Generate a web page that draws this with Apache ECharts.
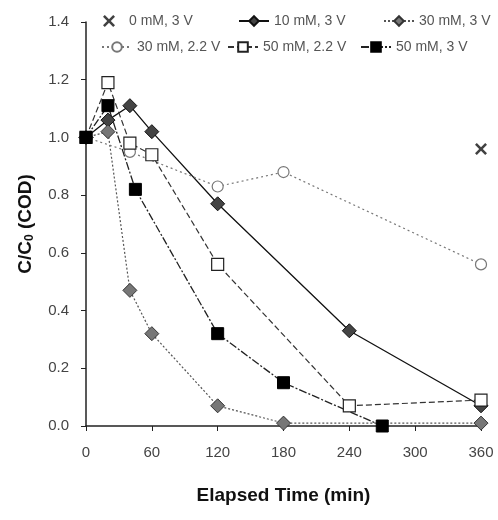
<!DOCTYPE html>
<html>
<head>
<meta charset="utf-8">
<script src="https://cdn.jsdelivr.net/npm/echarts@6/dist/echarts.min.js"></script>
<style>
  html, body { margin: 0; padding: 0; background: #fff; }
  #chart { width: 498px; height: 520px; }
</style>
</head>
<body>
<div id="chart"></div>
<script>
// Elapsed time (min) and normalised COD (C/C0) for each run
const seriesNames = ['0 mM, 3 V', '10 mM, 3 V', '30 mM, 3 V', '30 mM, 2.2 V', '50 mM, 2.2 V', '50 mM, 3 V'];

const t_0mM_3V = [360];
const c_0mM_3V = [0.96];

const t_10mM_3V = [0, 20, 40, 60, 120, 240, 360];
const c_10mM_3V = [1.0, 1.06, 1.11, 1.02, 0.77, 0.33, 0.07];

const t_30mM_3V = [0, 20, 40, 60, 120, 180, 360];
const c_30mM_3V = [1.0, 1.02, 0.47, 0.32, 0.07, 0.01, 0.01];

const t_30mM_22V = [0, 40, 120, 180, 360];
const c_30mM_22V = [1.0, 0.95, 0.83, 0.88, 0.56];

const t_50mM_22V = [0, 20, 40, 60, 120, 240, 360];
const c_50mM_22V = [1.0, 1.19, 0.98, 0.94, 0.56, 0.07, 0.09];

const t_50mM_3V = [0, 20, 45, 120, 180, 270];
const c_50mM_3V = [1.0, 1.11, 0.82, 0.32, 0.15, 0.0];

const xTicks = [0, 60, 120, 180, 240, 300, 360];
const yTicks = [0.0, 0.2, 0.4, 0.6, 0.8, 1.0, 1.2, 1.4];

const pairs = (xs, ys) => xs.map((x, i) => [x, ys[i]]);

// bold "x" marker
const crossPath = 'path://M0,3 L3,0 L10,7 L17,0 L20,3 L13,10 L20,17 L17,20 L10,13 L3,20 L0,17 L7,10 Z';

const tickFont = { fontFamily: 'Liberation Sans Narrow, Liberation Sans, sans-serif', fontSize: 15, color: '#444' };
const legendText = { fontFamily: 'Liberation Sans Narrow, Liberation Sans, sans-serif', fontSize: 14, color: '#555' };

function legendAt(name, left, top) {
  return {
    data: [name], left: left, top: top, orient: 'horizontal',
    itemWidth: 30, itemHeight: 12, itemGap: 4,
    textStyle: legendText, selectedMode: false
  };
}

const chart = echarts.init(document.getElementById('chart'), null, { renderer: 'canvas' });

chart.setOption({
  animation: false,
  backgroundColor: '#fff',
  grid: { left: 86, right: 17, top: 22, bottom: 94 },
  legend: [
    legendAt(seriesNames[0], 98, 9),
    legendAt(seriesNames[1], 233, 9),
    legendAt(seriesNames[2], 378, 9),
    legendAt(seriesNames[3], 96, 35),
    legendAt(seriesNames[4], 222, 35),
    legendAt(seriesNames[5], 355, 35)
  ],
  xAxis: {
    type: 'value', min: 0, max: 360, interval: 60,
    name: 'Elapsed Time (min)', nameLocation: 'middle', nameGap: 60,
    nameTextStyle: { fontFamily: 'Liberation Sans, Arial, sans-serif', fontSize: 19, fontWeight: 'bold', color: '#111' },
    axisLine: { show: true, lineStyle: { color: '#222', width: 1.5 } },
    axisTick: { show: true, length: 5, lineStyle: { color: '#222' } },
    axisLabel: Object.assign({ margin: 19, formatter: v => xTicks.includes(v) ? String(v) : '' }, tickFont),
    splitLine: { show: false }
  },
  yAxis: {
    type: 'value', min: 0, max: 1.4, interval: 0.2,
    name: 'C/C{sub|0} (COD)', nameLocation: 'middle', nameGap: 50, nameRotate: 90,
    nameTextStyle: {
      fontFamily: 'Liberation Sans, Arial, sans-serif', fontSize: 19, fontWeight: 'bold', color: '#111',
      rich: { sub: { fontFamily: 'Liberation Sans, Arial, sans-serif', fontSize: 12, fontWeight: 'bold', color: '#111', verticalAlign: 'bottom', padding: [8, 0, 0, 0] } }
    },
    axisLine: { show: true, lineStyle: { color: '#222', width: 1.5 } },
    axisTick: { show: true, length: 5, lineStyle: { color: '#222' } },
    axisLabel: Object.assign({ margin: 17, formatter: v => v.toFixed(1) }, tickFont),
    splitLine: { show: false }
  },
  series: [
    {
      name: seriesNames[0], type: 'scatter', data: pairs(t_0mM_3V, c_0mM_3V),
      symbol: crossPath, symbolSize: 12,
      itemStyle: { color: '#111' }
    },
    {
      name: seriesNames[1], type: 'line', data: pairs(t_10mM_3V, c_10mM_3V),
      symbol: 'diamond', symbolSize: 14,
      lineStyle: { color: '#111', width: 1.3, type: 'solid' },
      itemStyle: { color: '#444', borderColor: '#111', borderWidth: 1 }
    },
    {
      name: seriesNames[2], type: 'line', data: pairs(t_30mM_3V, c_30mM_3V),
      symbol: 'diamond', symbolSize: 14,
      lineStyle: { color: '#555', width: 1.2, type: [2, 2] },
      itemStyle: { color: '#777', borderColor: '#333', borderWidth: 1 }
    },
    {
      name: seriesNames[3], type: 'line', data: pairs(t_30mM_22V, c_30mM_22V),
      symbol: 'circle', symbolSize: 11,
      lineStyle: { color: '#777', width: 1.2, type: [2, 3] },
      itemStyle: { color: '#fff', borderColor: '#777', borderWidth: 1.2 }
    },
    {
      name: seriesNames[4], type: 'line', data: pairs(t_50mM_22V, c_50mM_22V),
      symbol: 'rect', symbolSize: 12,
      lineStyle: { color: '#333', width: 1.2, type: [6, 3] },
      itemStyle: { color: '#fff', borderColor: '#222', borderWidth: 1.2 }
    },
    {
      name: seriesNames[5], type: 'line', data: pairs(t_50mM_3V, c_50mM_3V),
      symbol: 'rect', symbolSize: 12,
      lineStyle: { color: '#222', width: 1.3, type: [8, 2, 2, 2] },
      itemStyle: { color: '#000', borderColor: '#000', borderWidth: 1 }
    }
  ]
});
</script>
</body>
</html>
